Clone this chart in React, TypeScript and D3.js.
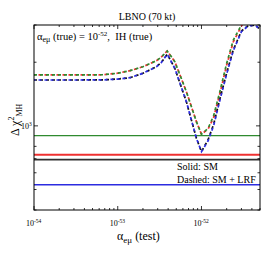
import React from 'react';
import * as d3 from 'd3';

// alpha_emu (test) grid for the dashed curves
const alphaTest = [1e-54, 3e-54, 6.6e-54, 1e-53, 1.4e-53, 2e-53, 2.9e-53, 3.3e-53, 3.9e-53, 4.8e-53,
  6.6e-53, 8.7e-53, 1e-52, 1.2e-52, 1.4e-52, 1.65e-52, 2e-52, 2.4e-52, 3e-52, 3.5e-52, 4e-52, 4.5e-52, 5e-52];

// SM + LRF (dashed)
const lrfGreen = [1741, 1741, 1745, 1775, 1824, 1905, 2033, 2110, 2261, 2013,
  1452, 1047, 913, 974, 1120, 1440, 1977, 2548, 3000, 3400, 3700, 3900, 4000];
const lrfRed = [1741, 1741, 1745, 1775, 1824, 1905, 2033, 2110, 2261, 2013,
  1452, 1047, 913, 965, 1100, 1410, 1940, 2500, 2960, 3350, 3650, 3850, 3950];
const lrfBlack = [1648, 1648, 1650, 1665, 1690, 1773, 1905, 1990, 2182, 1873,
  1302, 874, 755, 860, 1020, 1330, 1780, 2290, 2810, 2950, 3000, 2969, 2864];
const lrfBlue = [1648, 1648, 1650, 1665, 1690, 1773, 1905, 1990, 2182, 1873,
  1302, 874, 755, 850, 1005, 1310, 1760, 2270, 2790, 2940, 2995, 2965, 2860];

// SM (solid, flat)
const smGreen = 900;
const smRed = 730;
const smBlack = 693;
const smBlue = 527;

const xMajor = [1e-54, 1e-53, 1e-52];
const xMajorExp = ['-54', '-53', '-52'];
const yTicks = [400, 500, 600, 700, 800, 900, 1000, 2000, 3000];

const W = 274, H = 257;
const L = 34, R = 260, T = 25, B = 210;

export default function App() {
  const x = d3.scaleLog().domain([1e-54, 5e-52]).range([L, R]);
  const y = d3.scaleLog().domain([400, 3000]).range([B, T]);
  const line = d3.line<[number, number]>().x(d => x(d[0])).y(d => y(d[1]));
  const pts = (v: number[]) => alphaTest.map((a, i) => [a, v[i]] as [number, number]);

  const xMinor: number[] = [];
  for (const m of [1e-54, 1e-53, 1e-52]) {
    for (let k = 2; k <= 9; k++) {
      const v = m * k;
      if (v <= 5e-52 * 1.0001) xMinor.push(v);
    }
  }

  const serif = "'Liberation Serif', 'DejaVu Serif', serif";
  const dash = '3,3';

  return (
    <svg width={W} height={H} style={{ position: 'fixed', left: 0, top: 0, background: '#fff' }}
      fontFamily={serif}>
      <defs>
        <clipPath id="plotclip">
          <rect x={L} y={T} width={R - L} height={B - T} />
        </clipPath>
      </defs>
      <rect x={0} y={0} width={W} height={H} fill="#fff" />

      {/* ticks */}
      <g stroke="#000" strokeWidth={0.8}>
        {xMajor.map((v, i) => (
          <g key={'xm' + i}>
            <line x1={x(v)} x2={x(v)} y1={B} y2={B - 4} />
            <line x1={x(v)} x2={x(v)} y1={T} y2={T + 4} />
          </g>
        ))}
        {xMinor.map((v, i) => (
          <g key={'xn' + i}>
            <line x1={x(v)} x2={x(v)} y1={B} y2={B - 2} />
            <line x1={x(v)} x2={x(v)} y1={T} y2={T + 2} />
          </g>
        ))}
        {yTicks.map((v, i) => {
          const len = v === 1000 ? 4 : 2.5;
          return (
            <g key={'yt' + i}>
              <line x1={L} x2={L + len} y1={y(v)} y2={y(v)} />
              <line x1={R} x2={R - len} y1={y(v)} y2={y(v)} />
            </g>
          );
        })}
      </g>

      <g clipPath="url(#plotclip)">
        {/* SM solid */}
        <line x1={L} x2={R} y1={y(smGreen)} y2={y(smGreen)} stroke="#2f8a2f" strokeWidth={1.3} />
        <line x1={L} x2={R} y1={y(smRed)} y2={y(smRed)} stroke="#ee3030" strokeWidth={1.8} />
        <line x1={L} x2={R} y1={y(smBlack)} y2={y(smBlack)} stroke="#303030" strokeWidth={1.8} />
        <line x1={L} x2={R} y1={y(smBlue)} y2={y(smBlue)} stroke="#2c2ce0" strokeWidth={1.6} />

        {/* SM + LRF dashed */}
        <path d={line(pts(lrfRed)) || ''} fill="none" stroke="#ee3030" strokeWidth={1.7} strokeDasharray={dash} strokeDashoffset={1.5} />
        <path d={line(pts(lrfGreen)) || ''} fill="none" stroke="#2f8a2f" strokeWidth={1.7} strokeDasharray={dash} />
        <path d={line(pts(lrfBlack)) || ''} fill="none" stroke="#101010" strokeWidth={1.7} strokeDasharray={dash} />
        <path d={line(pts(lrfBlue)) || ''} fill="none" stroke="#2c2ce0" strokeWidth={1.7} strokeDasharray={dash} strokeDashoffset={1.5} />
      </g>

      <rect x={L} y={T} width={R - L} height={B - T} fill="none" stroke="#000" strokeWidth={1} />

      {/* title */}
      <text x={147} y={20} fontSize={10} textAnchor="middle">LBNO (70 kt)</text>

      {/* annotation */}
      <text x={37} y={40} fontSize={10.5}>
        <tspan>α</tspan>
        <tspan fontSize={8} dy={2}>eμ</tspan>
        <tspan dy={-2}>{' (true) = 10'}</tspan>
        <tspan fontSize={7} dy={-4}>-52</tspan>
        <tspan dy={4}>{',\u00a0\u00a0IH (true)'}</tspan>
      </text>

      {/* legend text */}
      <text x={177} y={170} fontSize={10}>Solid: SM</text>
      <text x={177} y={183} fontSize={10}>Dashed: SM + LRF</text>

      {/* y tick label */}
      <text x={21} y={129} fontSize={8}>
        <tspan>10</tspan>
        <tspan fontSize={5.5} dy={-3}>3</tspan>
      </text>

      {/* x tick labels */}
      {xMajor.map((v, i) => (
        <text key={'xl' + i} x={x(v) - 8} y={226} fontSize={8}>
          <tspan>10</tspan>
          <tspan fontSize={5.5} dy={-3}>{xMajorExp[i]}</tspan>
        </text>
      ))}

      {/* x axis label */}
      <text x={117} y={240} fontSize={12}>
        <tspan>α</tspan>
        <tspan fontSize={9} dy={3}>eμ</tspan>
        <tspan dy={-3}> (test)</tspan>
      </text>

      {/* y axis label */}
      <text transform="translate(19,136) rotate(-90)" fontSize={12}>
        <tspan>Δ χ</tspan>
        <tspan fontSize={8} dy={-5}>2</tspan>
        <tspan fontSize={8} dy={8}>MH</tspan>
      </text>
    </svg>
  );
}
